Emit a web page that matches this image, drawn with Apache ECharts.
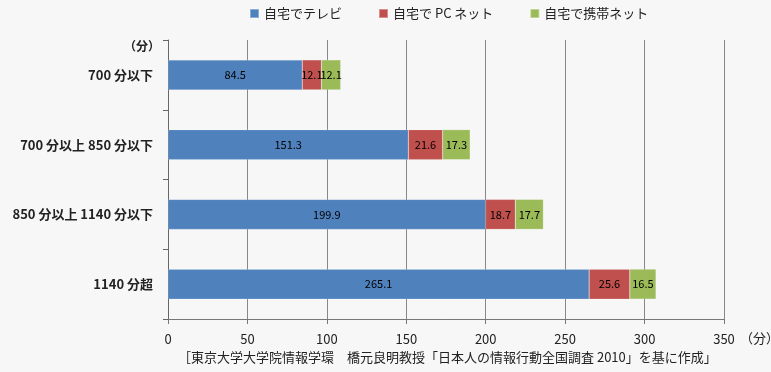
<!DOCTYPE html>
<html><head><meta charset="utf-8">
<script src="https://cdn.jsdelivr.net/npm/echarts@6/dist/echarts.min.js"></script>
<style>html,body{margin:0;padding:0;background:#f7f7f7}#c{width:771px;height:372px}</style>
</head><body><div id="c"></div>
<script>
const categories = ['700 分以下', '700 分以上 850 分以下', '850 分以上 1140 分以下', '1140 分超'];
const seriesNames = ['自宅でテレビ', '自宅で PC ネット', '自宅で携帯ネット'];
const tvValues = [84.5, 151.3, 199.9, 265.1];
const pcValues = [12.1, 21.6, 18.7, 25.6];
const mobileValues = [12.1, 17.3, 17.7, 16.5];
const xTicks = [0, 50, 100, 150, 200, 250, 300, 350];
const colors = ['#4F81BD', '#C0504D', '#9BBB59'];
const FONT = '"Noto Sans CJK JP", sans-serif';

const chart = echarts.init(document.getElementById('c'), null, {renderer: 'canvas'});
const mk = (name, data, color) => ({
  name, type: 'bar', stack: 'total', data, barWidth: 30,
  itemStyle: {color, borderColor: 'rgba(255,255,255,0.35)', borderWidth: 0.5},
  label: {show: true, position: 'inside', color: '#000', fontSize: 11, fontFamily: FONT},
  emphasis: {disabled: true}
});
chart.setOption({
  backgroundColor: '#f7f7f7',
  animation: false,
  textStyle: {fontFamily: FONT},
  legend: {
    top: 2, left: 244, itemWidth: 9, itemHeight: 9, itemGap: 36,
    icon: 'rect',
    textStyle: {fontSize: 13, color: '#222', fontFamily: FONT},
    data: seriesNames
  },
  grid: {left: 168, right: 47, top: 40, bottom: 53, containLabel: false},
  xAxis: {
    type: 'value', min: xTicks[0], max: xTicks[xTicks.length - 1], interval: 50,
    axisLine: {show: true, lineStyle: {color: '#777'}},
    axisTick: {show: true, length: 5, lineStyle: {color: '#777'}},
    splitLine: {show: true, lineStyle: {color: '#888', width: 1}},
    axisLabel: {fontSize: 13, color: '#222', margin: 14, fontFamily: FONT}
  },
  yAxis: {
    type: 'category', data: categories, inverse: true,
    axisLine: {show: true, lineStyle: {color: '#666'}},
    axisTick: {show: true, length: 5, lineStyle: {color: '#666'}},
    axisLabel: {fontSize: 13, color: '#222', margin: 15, fontWeight: 'bold', fontFamily: FONT}
  },
  graphic: [
    {type: 'text', left: 124, top: 40, style: {text: '（分）', fill: '#222', font: 'bold 12px ' + FONT}},
    {type: 'text', left: 740, top: 332, style: {text: '（分）', fill: '#222', font: '13px ' + FONT}},
    {type: 'text', left: 178, top: 351, style: {text: '［東京大学大学院情報学環　橋元良明教授「日本人の情報行動全国調査 2010」を基に作成」', fill: '#222', font: '13px ' + FONT}}
  ],
  series: [
    mk(seriesNames[0], tvValues, colors[0]),
    mk(seriesNames[1], pcValues, colors[1]),
    mk(seriesNames[2], mobileValues, colors[2])
  ]
});
</script></body></html>
